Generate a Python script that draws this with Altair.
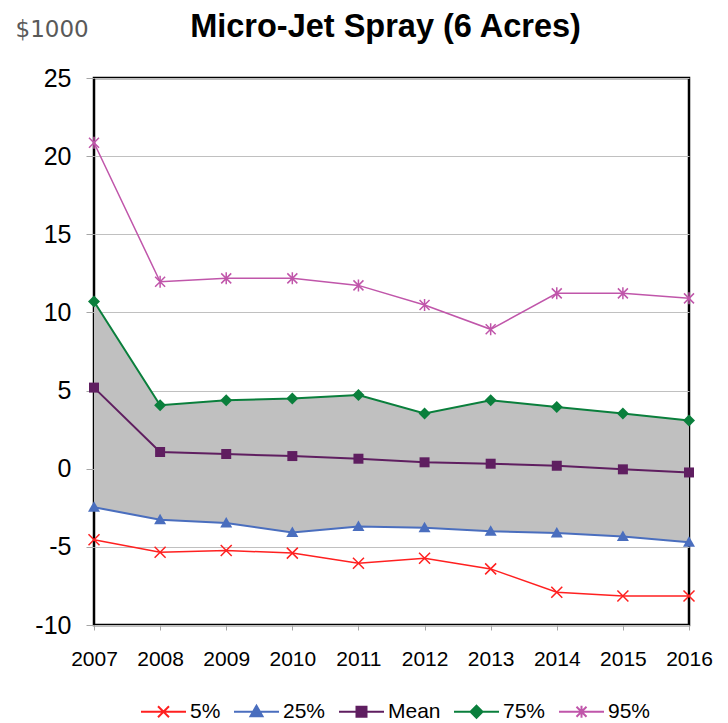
import altair as alt
import pandas as pd

years = [2007, 2008, 2009, 2010, 2011, 2012, 2013, 2014, 2015, 2016]
p5 = [-4.55, -5.34, -5.23, -5.40, -6.05, -5.73, -6.41, -7.90, -8.14, -8.14]
p25 = [-2.46, -3.27, -3.48, -4.08, -3.70, -3.78, -4.00, -4.12, -4.34, -4.70]
mean = [5.19, 1.07, 0.94, 0.81, 0.64, 0.41, 0.32, 0.19, -0.04, -0.24]
p75 = [10.70, 4.06, 4.38, 4.49, 4.72, 3.53, 4.38, 3.95, 3.53, 3.08]
p95 = [20.86, 11.96, 12.18, 12.18, 11.73, 10.47, 8.92, 11.22, 11.22, 10.90]

names = ["5%", "25%", "Mean", "75%", "95%"]
colors = ["#ff2020", "#4a6ebe", "#5f1e60", "#0a7f3c", "#c056aa"]
widths = [1.5, 2, 2, 2, 1.5]
series_values = [p5, p25, mean, p75, p95]

# marker shapes (unit paths scaled by symbol size)
marker_paths = [
    "M-1.1,-1.1L1.1,1.1M-1.1,1.1L1.1,-1.1",
    "M0,-1.2L1.2,0.9L-1.2,0.9Z",
    "M-1,-1L1,-1L1,1L-1,1Z",
    "M0,-1.2L1.2,0L0,1.2L-1.2,0Z",
    "M-1,-1L1,1M-1,1L1,-1M0,-1.2L0,1.2",
]
marker_filled = [False, True, True, True, False]
legend_line = "M-4.5,0L4.5,0"
legend_paths = [legend_line + p for p in marker_paths]

rows = []
for n, vals in zip(names, series_values):
    for yr, v in zip(years, vals):
        rows.append({"year": yr, "series": n, "value": v})
df = pd.DataFrame(rows)
band_df = pd.DataFrame({"year": years, "p25": p25, "p75": p75})

x_enc = alt.X(
    "year:Q",
    scale=alt.Scale(domain=[2007, 2016], nice=False, zero=False),
    axis=alt.Axis(
        values=years, format="d", title=None, grid=False, domain=False,
        labelFont="Liberation Sans", labelFontSize=21, labelColor="black",
        tickSize=5, tickColor="#a6a6a6", labelPadding=18, labelFlush=False,
    ),
)
y_axis = alt.Axis(
    values=[-10, -5, 0, 5, 10, 15, 20, 25], title="$1000", grid=True,
    gridColor="#c0c0c0", gridWidth=1, domain=False,
    labelExpr="datum.value + ''",
    labelFont="Liberation Sans", labelFontSize=25, labelColor="black",
    tickSize=8, tickColor="#a6a6a6", labelPadding=15,
    titleAngle=0, titleAlign="left", titleBaseline="alphabetic",
    titleX=-79, titleY=-42, titleFont="DejaVu Sans", titleFontSize=23,
    titleFontWeight="normal", titleColor="#595959",
)
y_scale = alt.Scale(domain=[-10, 25], nice=False, zero=False)

band = alt.Chart(band_df).mark_area(color="#c0c0c0", opacity=1).encode(
    x=x_enc,
    y=alt.Y("p25:Q", scale=y_scale, axis=y_axis),
    y2="p75:Q",
)

layers = [band]
for n, c, w, pth, fl in zip(names, colors, widths, marker_paths, marker_filled):
    sub = alt.Chart(df).transform_filter(alt.datum.series == n)
    line = sub.mark_line(color=c, strokeWidth=w).encode(
        x=x_enc, y=alt.Y("value:Q", scale=y_scale, axis=y_axis)
    )
    if fl:
        pts = sub.mark_point(shape=pth, filled=True, color=c, size=100, opacity=1)
    else:
        pts = sub.mark_point(shape=pth, filled=False, color=c, size=100,
                             strokeWidth=1.5, opacity=1)
    pts = pts.encode(x=x_enc, y=alt.Y("value:Q", scale=y_scale, axis=y_axis))
    layers += [line, pts]

leg = alt.Legend(
    title=None, orient="none", legendX=59, legendY=623, direction="horizontal",
    labelFont="Liberation Sans", labelFontSize=21, labelColor="black",
    symbolSize=100, symbolStrokeWidth=2, labelOffset=16, columnPadding=9,
)
legend_layer = alt.Chart(df).transform_filter("false").mark_point(
    filled=True, size=100, strokeWidth=2, opacity=1
).encode(
    x=x_enc,
    y=alt.Y("value:Q", scale=y_scale, axis=y_axis),
    fill=alt.Fill("series:N", scale=alt.Scale(domain=names, range=colors), legend=leg),
    stroke=alt.Stroke("series:N", scale=alt.Scale(domain=names, range=colors), legend=leg),
    shape=alt.Shape("series:N", scale=alt.Scale(domain=names, range=legend_paths), legend=leg),
)
layers.append(legend_layer)

chart = alt.layer(*layers).properties(
    width=595, height=547,
    autosize=alt.AutoSizeParams(type="none"),
    padding={"left": 86, "top": 70, "right": 30, "bottom": 98},
    title=alt.Title(
        "Micro-Jet Spray (6 Acres)", font="Liberation Sans", fontSize=32.5,
        fontWeight="bold", color="black", anchor="middle", frame="group",
        baseline="alphabetic", dx=-6, dy=51, offset=0,
    ),
).configure_view(stroke="black", strokeWidth=2.5)

chart.save("out.html", embed_options={"renderer": "svg", "actions": False})
